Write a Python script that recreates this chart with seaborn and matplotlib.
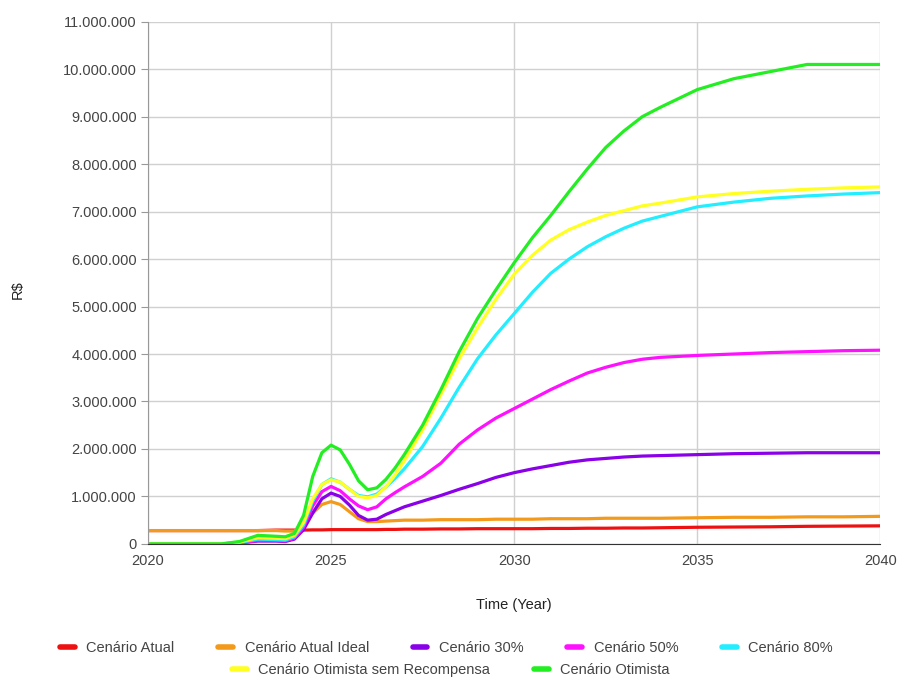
import pandas as pd
import matplotlib
matplotlib.use("Agg")
import matplotlib.pyplot as plt
import matplotlib.ticker as mticker
import seaborn as sns

# years sampled (denser where the curves bend)
anos = [2020, 2021, 2022, 2022.5, 2023, 2023.5, 2023.75, 2024, 2024.25, 2024.5,
        2024.75, 2025, 2025.25, 2025.5, 2025.75, 2026, 2026.25, 2026.5, 2026.75, 2027,
        2027.5, 2028, 2028.5, 2029, 2029.5, 2030, 2030.5, 2031, 2031.5, 2032,
        2032.5, 2033, 2033.5, 2034, 2035, 2036, 2037, 2038, 2039, 2040]

# values in millions of R$
atual = [0.28, 0.28, 0.28, 0.28, 0.28, 0.29, 0.29, 0.29, 0.29, 0.295,
         0.295, 0.30, 0.30, 0.30, 0.30, 0.30, 0.30, 0.305, 0.305, 0.31,
         0.31, 0.315, 0.315, 0.32, 0.32, 0.32, 0.32, 0.325, 0.325, 0.33,
         0.33, 0.335, 0.335, 0.34, 0.35, 0.355, 0.36, 0.37, 0.375, 0.38]
atual_ideal = [0.28, 0.28, 0.28, 0.28, 0.28, 0.28, 0.27, 0.27, 0.40, 0.65,
               0.83, 0.89, 0.83, 0.68, 0.53, 0.47, 0.47, 0.48, 0.49, 0.50,
               0.50, 0.51, 0.51, 0.51, 0.52, 0.52, 0.52, 0.53, 0.53, 0.53,
               0.54, 0.54, 0.54, 0.54, 0.55, 0.56, 0.56, 0.57, 0.57, 0.58]
c30 = [0, 0, 0, 0.02, 0.06, 0.06, 0.05, 0.10, 0.30, 0.65,
       0.95, 1.07, 1.00, 0.82, 0.60, 0.50, 0.52, 0.62, 0.70, 0.78,
       0.90, 1.02, 1.15, 1.27, 1.40, 1.50, 1.58, 1.65, 1.72, 1.77,
       1.80, 1.83, 1.85, 1.86, 1.88, 1.90, 1.91, 1.92, 1.92, 1.92]
c50 = [0, 0, 0, 0.02, 0.07, 0.07, 0.06, 0.12, 0.35, 0.80,
       1.10, 1.21, 1.12, 0.95, 0.80, 0.72, 0.78, 0.95, 1.08, 1.20,
       1.42, 1.70, 2.10, 2.40, 2.65, 2.85, 3.05, 3.25, 3.43, 3.60,
       3.72, 3.82, 3.89, 3.93, 3.97, 4.00, 4.03, 4.05, 4.07, 4.08]
c80 = [0, 0, 0, 0.03, 0.10, 0.09, 0.08, 0.15, 0.40, 0.90,
       1.25, 1.37, 1.30, 1.15, 1.02, 0.99, 1.05, 1.20, 1.38, 1.58,
       2.05, 2.65, 3.30, 3.90, 4.40, 4.85, 5.30, 5.70, 6.00, 6.26,
       6.47, 6.65, 6.80, 6.90, 7.10, 7.20, 7.28, 7.33, 7.37, 7.40]
otimista_sem = [0, 0, 0, 0.04, 0.13, 0.12, 0.11, 0.18, 0.45, 0.95,
                1.25, 1.35, 1.30, 1.15, 1.00, 0.97, 1.02, 1.20, 1.45, 1.75,
                2.40, 3.15, 3.90, 4.55, 5.15, 5.68, 6.08, 6.40, 6.62, 6.78,
                6.92, 7.02, 7.12, 7.18, 7.31, 7.38, 7.43, 7.47, 7.50, 7.52]
otimista = [0, 0, 0, 0.05, 0.18, 0.16, 0.15, 0.22, 0.60, 1.42,
            1.92, 2.08, 1.98, 1.68, 1.33, 1.14, 1.18, 1.36, 1.60, 1.88,
            2.50, 3.25, 4.05, 4.75, 5.35, 5.92, 6.45, 6.92, 7.42, 7.90,
            8.35, 8.70, 9.00, 9.20, 9.57, 9.80, 9.95, 10.10, 10.10, 10.10]

nomes = ["Cenário Atual", "Cenário Atual Ideal", "Cenário 30%", "Cenário 50%",
         "Cenário 80%", "Cenário Otimista sem Recompensa", "Cenário Otimista"]
series = [atual, atual_ideal, c30, c50, c80, otimista_sem, otimista]
cores = ["#ee1111", "#f39a1a", "#8a00e8", "#ff11ff", "#22eeff", "#ffff22", "#22ee22"]

df = pd.concat([pd.DataFrame({"Ano": anos, "Valor": [v * 1e6 for v in s], "Cenario": n})
                for n, s in zip(nomes, series)])

sns.set_style("white")
plt.rcParams['font.family'] = ['Liberation Sans', 'DejaVu Sans']

fig = plt.figure(figsize=(9.02, 6.79), dpi=100)
ax = fig.add_axes([0.164, 0.199, 0.812, 0.769])

sns.lineplot(data=df, x="Ano", y="Valor", hue="Cenario", hue_order=nomes,
             palette=dict(zip(nomes, cores)), linewidth=2.3, ax=ax, legend=False,
             solid_joinstyle="round", solid_capstyle="round")

ax.set_xlim(2020, 2040)
ax.set_ylim(0, 11e6)
ax.set_xticks([2020, 2025, 2030, 2035, 2040])
ax.set_yticks(range(0, 11000001, 1000000))
ax.yaxis.set_major_formatter(mticker.FuncFormatter(lambda v, p: f"{int(v):,}".replace(",", ".")))
ax.grid(True, color="#d0d0d0", linewidth=1)
ax.set_axisbelow(True)
for s in ["top", "right"]:
    ax.spines[s].set_visible(False)
ax.spines["left"].set_color("#999999")
ax.spines["bottom"].set_color("#333333")
ax.tick_params(axis="y", left=True, length=5, color="#999999", labelsize=10.5, labelcolor="#444444", pad=3)
ax.tick_params(axis="x", bottom=False, labelsize=10.5, labelcolor="#444444", pad=4)
ax.set_xlabel("")
ax.set_ylabel("")
fig.text(514 / 902, 1 - 605 / 679, "Time (Year)", ha="center", va="center", fontsize=10.5, color="#222222")
fig.text(18 / 902, 1 - 290 / 679, "R$", ha="center", va="center", rotation=90, fontsize=10.5, color="#222222")

handles = [plt.Line2D([0], [0], color=c, linewidth=4) for c in cores]
leg_kw = dict(frameon=False, fontsize=10.5, handlelength=1.0, columnspacing=3.0,
              handletextpad=0.8, labelcolor="#444444")
fig.legend(handles[:5], nomes[:5], loc="center", ncol=5, bbox_to_anchor=(0.495, 1 - 648 / 679), **leg_kw)
fig.legend(handles[5:], nomes[5:], loc="center", ncol=2, bbox_to_anchor=(0.50, 1 - 670 / 679), **leg_kw)

fig.savefig("out.png", dpi=100)
